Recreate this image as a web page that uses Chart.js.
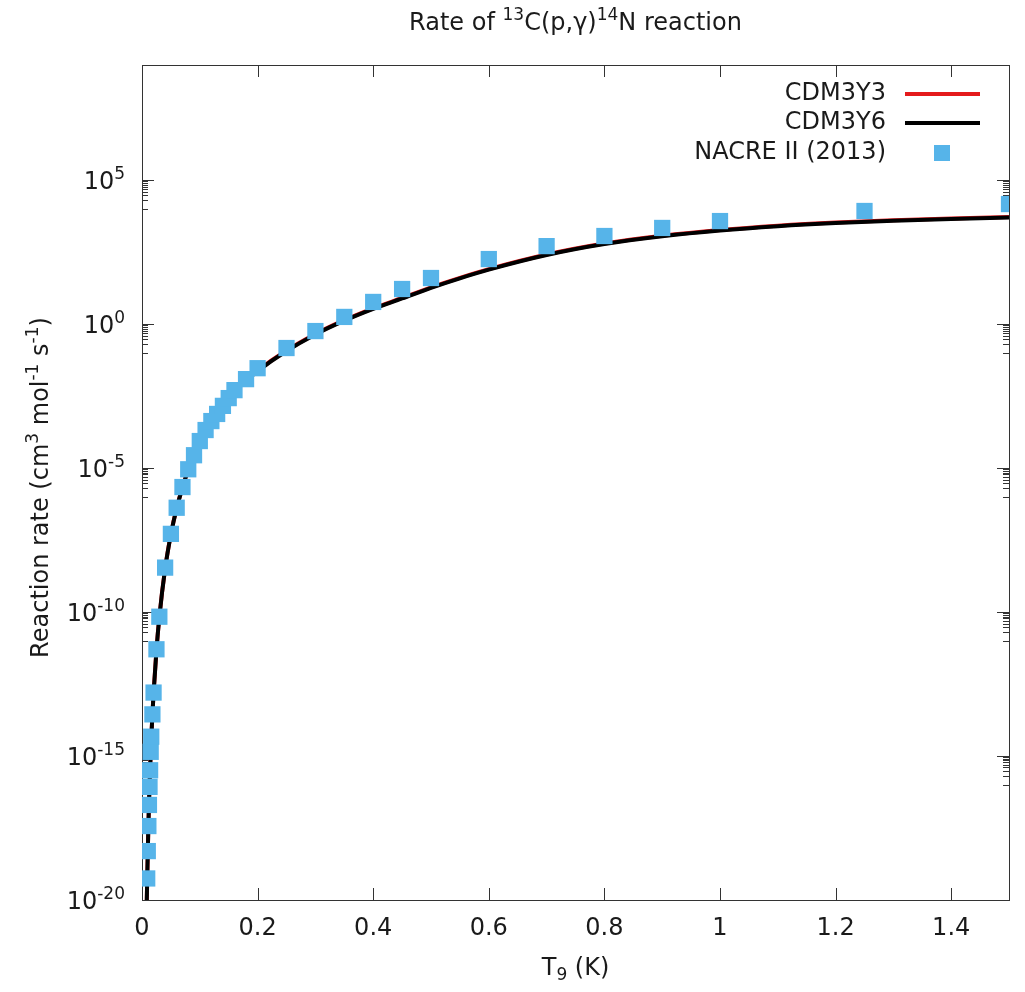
<!DOCTYPE html>
<html lang="en">
<head>
<meta charset="UTF-8">
<title>Rate of 13C(p,γ)14N reaction</title>
<script src="https://cdn.jsdelivr.net/npm/chart.js"></script>
<style>
  body { margin: 0; background: #fff; }
  canvas { display: block; }
</style>
</head>
<body>
<canvas id="rateChart" width="1025" height="992"></canvas>
<script>
// NACRE II (2013) tabulated rate
const T9_NACRE = [0.009, 0.010, 0.011, 0.012, 0.013, 0.014, 0.015, 0.016, 0.018, 0.020,
  0.025, 0.030, 0.040, 0.050, 0.060, 0.070, 0.080, 0.090, 0.10, 0.11,
  0.12, 0.13, 0.14, 0.15, 0.16, 0.18, 0.20, 0.25, 0.30, 0.35,
  0.40, 0.45, 0.50, 0.60, 0.70, 0.80, 0.90, 1.00, 1.25, 1.50];
const RATE_NACRE = [5.6e-20, 5.0e-19, 3.7e-18, 2.0e-17, 8.5e-17, 3.2e-16, 1.4e-15, 4.7e-15, 2.8e-14, 1.6e-13,
  5.1e-12, 6.9e-11, 3.5e-9, 5.2e-8, 4.2e-7, 2.2e-6, 9.1e-6, 2.8e-5, 8.7e-5, 2.1e-4,
  4.3e-4, 7.6e-4, 1.45e-3, 2.7e-3, 5.1e-3, 1.23e-2, 2.95e-2, 0.148, 0.575, 1.78,
  5.9, 16.6, 40, 182, 513, 1150, 2190, 3800, 8500, 1.48e4];

// folding-model curves
const T9_MODEL = [0.008, 0.009, 0.010, 0.011, 0.012, 0.013, 0.014, 0.015, 0.016, 0.018,
  0.020, 0.025, 0.030, 0.040, 0.050, 0.060, 0.070, 0.080, 0.090, 0.10,
  0.12, 0.14, 0.16, 0.18, 0.20, 0.25, 0.30, 0.35, 0.40, 0.45,
  0.50, 0.55, 0.60, 0.70, 0.80, 0.90, 1.0, 1.1, 1.2, 1.3, 1.4, 1.5];
const RATE_CDM3Y3 = [5.2e-21, 5.1e-20, 4.6e-19, 3.5e-18, 2.0e-17, 8.9e-17, 3.5e-16, 1.24e-15, 3.95e-15, 2.75e-14,
  1.52e-13, 4.8e-12, 6.7e-11, 3.25e-9, 5.1e-8, 4.1e-7, 2.15e-6, 8.9e-6, 2.82e-5, 8.0e-5,
  3.9e-4, 1.39e-3, 4.43e-3, 1.1e-2, 2.42e-2, 0.121, 0.455, 1.37, 3.53, 8.1,
  18.9, 40.5, 81, 261, 627, 1165, 1850, 2610, 3370, 4050, 4650, 5210];
const RATE_CDM3Y6 = [5.2e-21, 5.1e-20, 4.6e-19, 3.5e-18, 2.0e-17, 8.9e-17, 3.5e-16, 1.23e-15, 3.9e-15, 2.7e-14,
  1.5e-13, 4.7e-12, 6.6e-11, 3.2e-9, 5.0e-8, 4.0e-7, 2.1e-6, 8.7e-6, 2.75e-5, 7.8e-5,
  3.8e-4, 1.35e-3, 4.3e-3, 1.07e-2, 2.34e-2, 0.117, 0.44, 1.32, 3.4, 7.8,
  18.2, 39, 78, 251, 603, 1120, 1780, 2510, 3240, 3890, 4470, 5010];

// axes
const X_TICKS = [0, 0.2, 0.4, 0.6, 0.8, 1.0, 1.2, 1.4];
const Y_TICKS = [1e-20, 1e-15, 1e-10, 1e-5, 1, 1e5];
const Y_TICK_EXP = ['-20', '-15', '-10', '-5', '0', '5'];

const FONT = 'DejaVu Sans';
const INK = '#1a1a1a';

function toPoints(xs, ys) {
  return xs.map((x, i) => ({ x: x, y: ys[i] }));
}

// text with super/subscripts: parts = [[text, 'sup'|'sub'|undefined], ...]
function richText(ctx, parts, x, y, size, align) {
  const fontFor = p => (p[1] ? Math.round(size * 0.72) : size) + 'px "' + FONT + '"';
  let total = 0;
  parts.forEach(p => { ctx.font = fontFor(p); total += ctx.measureText(p[0]).width; });
  let px = align === 'right' ? x - total : align === 'center' ? x - total / 2 : x;
  ctx.textAlign = 'left';
  ctx.textBaseline = 'alphabetic';
  parts.forEach(p => {
    ctx.font = fontFor(p);
    let dy = 0;
    if (p[1] === 'sup') dy = -size * 0.42;
    if (p[1] === 'sub') dy = size * 0.22;
    ctx.fillText(p[0], px, y + dy);
    px += ctx.measureText(p[0]).width;
  });
}

// box + inward tics on all four sides (gnuplot style)
const frame = {
  id: 'frame',
  beforeDatasetsDraw(chart) {
    const { ctx, chartArea: a, scales: { x, y } } = chart;
    ctx.save();
    ctx.strokeStyle = '#333';
    ctx.lineWidth = 1;
    ctx.strokeRect(a.left + 0.5, a.top + 0.5, a.right - a.left, a.bottom - a.top);
    ctx.beginPath();
    X_TICKS.forEach(v => {
      const px = Math.round(x.getPixelForValue(v)) + 0.5;
      ctx.moveTo(px, a.bottom); ctx.lineTo(px, a.bottom - 12);
      ctx.moveTo(px, a.top); ctx.lineTo(px, a.top + 12);
    });
    Y_TICKS.forEach(v => {
      for (let m = 1; m <= 10; m++) {
        const val = v * m / 10;
        if (val < y.min || val > y.max) continue;
        const py = Math.round(y.getPixelForValue(val)) + 0.5;
        const len = m === 10 ? 12 : 6;
        ctx.moveTo(a.left, py); ctx.lineTo(a.left + len, py);
        ctx.moveTo(a.right, py); ctx.lineTo(a.right - len, py);
      }
    });
    ctx.stroke();
    ctx.restore();
  }
};

// y tick labels, title, axis titles and key
const annotate = {
  id: 'annotate',
  afterDraw(chart) {
    const { ctx, chartArea: a, scales: { y } } = chart;
    const cx = (a.left + a.right) / 2;
    ctx.save();
    ctx.fillStyle = INK;

    Y_TICKS.forEach((v, i) => {
      const py = y.getPixelForValue(v);
      richText(ctx, [['10'], [Y_TICK_EXP[i], 'sup']], 125, py + 9, 24, 'right');
    });

    richText(ctx, [['Rate of '], ['13', 'sup'], ['C(p,γ)'], ['14', 'sup'], ['N reaction']], cx, 30, 24, 'center');
    richText(ctx, [['T'], ['9', 'sub'], [' (K)']], cx, 975, 24, 'center');

    ctx.save();
    ctx.translate(48, (a.top + a.bottom) / 2 + 5);
    ctx.rotate(-Math.PI / 2);
    richText(ctx, [['Reaction rate (cm'], ['3', 'sup'], [' mol'], ['-1', 'sup'], [' s'], ['-1', 'sup'], [')']], 0, 0, 24, 'center');
    ctx.restore();

    // key
    const ds = chart.data.datasets;
    const rows = [94, 123, 153];
    ds.forEach((d, i) => {
      const ry = rows[i];
      ctx.fillStyle = INK;
      ctx.font = '24px "' + FONT + '"';
      ctx.textAlign = 'right';
      ctx.textBaseline = 'middle';
      ctx.fillText(d.label, 886, ry);
      if (d.showLine) {
        ctx.strokeStyle = d.borderColor;
        ctx.lineWidth = d.borderWidth;
        ctx.beginPath();
        ctx.moveTo(905, ry);
        ctx.lineTo(980, ry);
        ctx.stroke();
      } else {
        ctx.fillStyle = d.backgroundColor;
        ctx.fillRect(942 - 8, ry - 8, 16, 16);
      }
    });
    ctx.restore();
  }
};

const chart = new Chart(document.getElementById('rateChart'), {
  type: 'line',
  data: {
    datasets: [
      {
        label: 'CDM3Y3',
        data: toPoints(T9_MODEL, RATE_CDM3Y3),
        showLine: true,
        borderColor: '#e41a1c',
        borderWidth: 4,
        pointRadius: 0,
        cubicInterpolationMode: 'monotone',
        order: 2
      },
      {
        label: 'CDM3Y6',
        data: toPoints(T9_MODEL, RATE_CDM3Y6),
        showLine: true,
        borderColor: '#000000',
        borderWidth: 4,
        pointRadius: 0,
        cubicInterpolationMode: 'monotone',
        order: 1
      },
      {
        label: 'NACRE II (2013)',
        data: toPoints(T9_NACRE, RATE_NACRE),
        showLine: false,
        backgroundColor: '#56b4e9',
        borderColor: '#56b4e9',
        borderWidth: 0,
        pointStyle: 'rect',
        pointRadius: 11.5,
        order: 0
      }
    ]
  },
  options: {
    responsive: false,
    animation: false,
    layout: { padding: { top: 65, right: 16, left: 0, bottom: 0 } },
    plugins: {
      legend: { display: false },
      tooltip: { enabled: false }
    },
    scales: {
      x: {
        type: 'linear',
        min: 0,
        max: 1.5,
        grid: { display: false, drawTicks: false },
        border: { display: false },
        afterBuildTicks: s => { s.ticks = X_TICKS.map(v => ({ value: v })); },
        afterFit: s => { s.height = 92; },
        ticks: {
          padding: 14,
          color: INK,
          font: { family: FONT, size: 24 },
          maxRotation: 0,
          callback: v => String(v)
        }
      },
      y: {
        type: 'logarithmic',
        min: 1e-20,
        max: 1e9,
        grid: { display: false, drawTicks: false },
        border: { display: false },
        afterBuildTicks: s => { s.ticks = Y_TICKS.map(v => ({ value: v })); },
        afterFit: s => { s.width = 142; },
        ticks: { display: false }
      }
    }
  },
  plugins: [frame, annotate]
});
</script>
</body>
</html>
